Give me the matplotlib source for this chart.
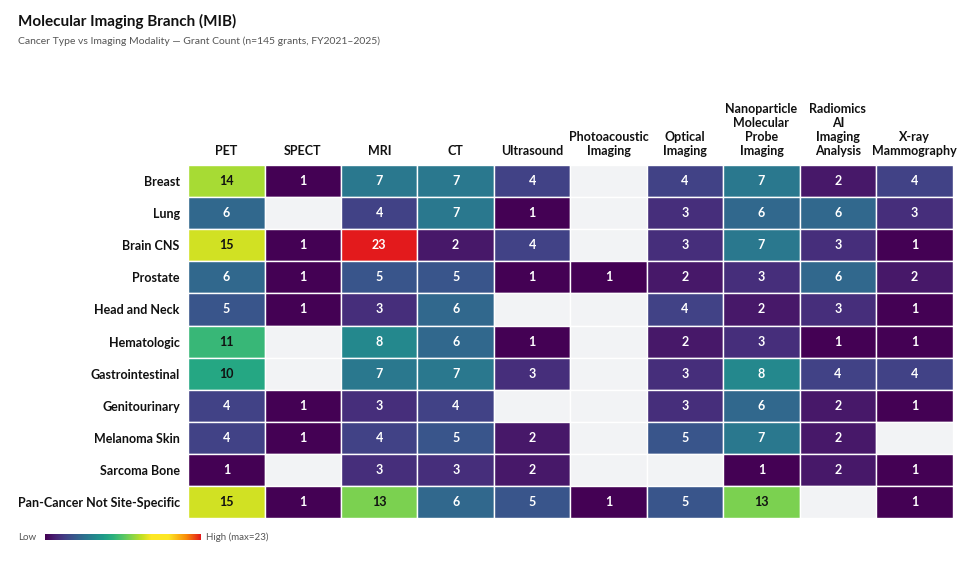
import numpy as np
import matplotlib
matplotlib.use("Agg")
import matplotlib.pyplot as plt
from matplotlib.colors import LinearSegmentedColormap
from matplotlib import cm

plt.rcParams['font.family'] = ['Lato', 'DejaVu Sans']

rows = ["Breast", "Lung", "Brain CNS", "Prostate", "Head and Neck", "Hematologic",
        "Gastrointestinal", "Genitourinary", "Melanoma Skin", "Sarcoma Bone",
        "Pan-Cancer Not Site-Specific"]
cols = ["PET", "SPECT", "MRI", "CT", "Ultrasound", "Photoacoustic\nImaging",
        "Optical\nImaging", "Nanoparticle\nMolecular\nProbe\nImaging",
        "Radiomics\nAI\nImaging\nAnalysis", "X-ray\nMammography"]
values = [
    [14, 1, 7, 7, 4, 0, 4, 7, 2, 4],
    [6, 0, 4, 7, 1, 0, 3, 6, 6, 3],
    [15, 1, 23, 2, 4, 0, 3, 7, 3, 1],
    [6, 1, 5, 5, 1, 1, 2, 3, 6, 2],
    [5, 1, 3, 6, 0, 0, 4, 2, 3, 1],
    [11, 0, 8, 6, 1, 0, 2, 3, 1, 1],
    [10, 0, 7, 7, 3, 0, 3, 8, 4, 4],
    [4, 1, 3, 4, 0, 0, 3, 6, 2, 1],
    [4, 1, 4, 5, 2, 0, 5, 7, 2, 0],
    [1, 0, 3, 3, 2, 0, 0, 1, 2, 1],
    [15, 1, 13, 6, 5, 1, 5, 13, 0, 1],
]
data = np.array(values, dtype=float)
vmax = data.max()

vir = cm.get_cmap('viridis')
split = (16 - 1) / (vmax - 1)
stops = [(split * t, vir(t)) for t in np.linspace(0, 1, 12)]
stops += [(split + (1 - split) * 0.35, '#fde725'), (split + (1 - split) * 0.7, '#f98e09'), (1.0, '#e31a1c')]
cmap = LinearSegmentedColormap.from_list('ext', stops)

fig = plt.figure(figsize=(9.7, 5.75), dpi=100)
ax = fig.add_axes([0.194, 0.099, 0.788, 0.614])
nr, nc = data.shape
for i in range(nr):
    for j in range(nc):
        v = data[i, j]
        if v == 0:
            c = '#f2f3f5'
        else:
            c = cmap((v - 1) / (vmax - 1))
        ax.add_patch(plt.Rectangle((j, i), 1, 1, facecolor=c, edgecolor='white', lw=1))
        if v > 0:
            frac = (v - 1) / (vmax - 1)
            tc = '#111111' if 0.4 < frac < 0.75 else 'white'
            ax.text(j + 0.5, i + 0.5, f"{int(v)}", ha='center', va='center',
                    fontsize=9, fontweight='bold', color=tc)
ax.set_xlim(0, nc)
ax.set_ylim(nr, 0)
ax.set_xticks(np.arange(nc) + 0.5)
ax.set_xticklabels(cols, fontsize=9, fontweight='bold', color='#111111')
ax.xaxis.tick_top()
ax.set_yticks(np.arange(nr) + 0.5)
ax.set_yticklabels(rows, fontsize=9, fontweight='bold', color='#111111')
ax.tick_params(length=0, pad=6)
for s in ax.spines.values():
    s.set_visible(False)

fig.text(0.019, 0.955, "Molecular Imaging Branch (MIB)", fontsize=11, fontweight='bold', color='#111111')
fig.text(0.019, 0.923, "Cancer Type vs Imaging Modality \u2014 Grant Count (n=145 grants, FY2021\u20132025)",
         fontsize=7.5, color='#555555')

lax = fig.add_axes([0.046, 0.061, 0.160, 0.011])
lax.imshow(np.linspace(0, 1, 256)[None, :], aspect='auto', cmap=cmap)
lax.axis('off')
fig.text(0.019, 0.066, "Low", fontsize=7, color='#555555', va='center')
fig.text(0.212, 0.066, "High (max=23)", fontsize=7, color='#555555', va='center')

fig.savefig("out.png", dpi=100, facecolor='white')
